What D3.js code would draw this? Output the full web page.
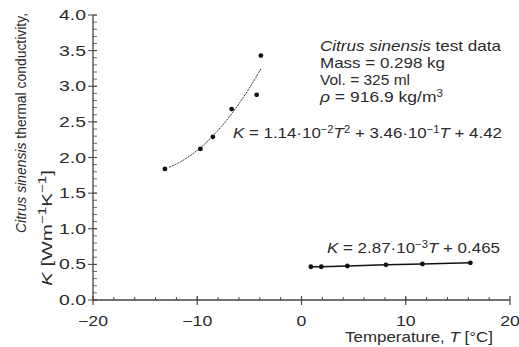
<!DOCTYPE html>
<html>
<head>
<meta charset="utf-8">
<script src="https://cdn.jsdelivr.net/npm/d3@7"></script>
<style>
  body { margin: 0; background: #fff; }
  text { font-family: "Liberation Sans", Arial, sans-serif; fill: #2b2b2b; }
</style>
</head>
<body>
<svg id="chart" width="519" height="347"></svg>
<script>
// frozen (below 0 C) measurements
var frozenT = [-13.1, -9.7, -8.5, -6.7, -4.3, -3.9];
var frozenK = [1.84, 2.12, 2.29, 2.68, 2.88, 3.43];
// thawed (above 0 C) measurements
var thawedT = [0.9, 1.9, 4.4, 8.1, 11.6, 16.2];
var thawedK = [0.467, 0.467, 0.477, 0.494, 0.505, 0.522];

// fit coefficients printed on the chart
var quadFit = [1.14e-2, 3.46e-1, 4.42];
var quadRange = [-12.7, -3.9];
var xTicks = [-20, -10, 0, 10, 20];
var yTicks = [0, 0.5, 1, 1.5, 2, 2.5, 3, 3.5, 4];

var svg = d3.select("#chart");
var axisColor = "#444";

var margins = { top: 15, bottom: 47, left: 93, right: 9 };
var width = 519, height = 347;

var x = d3.scaleLinear().domain([-20, 20]).range([margins.left, width - margins.right]);
var y = d3.scaleLinear().domain([0, 4]).range([height - margins.bottom, margins.top]);

// squeeze text to the widths seen in the picture
function fit(sel, len, how) {
  return sel.attr("textLength", len).attr("lengthAdjust", how || "spacingAndGlyphs");
}
function sup(sel, s, size) {
  sel.append("tspan").attr("baseline-shift", "super").style("font-size", (size || 10) + "px").text(s);
}

// y axis: minor ticks every 0.1 pointing in, major ticks crossing
var yAxisG = svg.append("g");
yAxisG.append("line")
  .attr("x1", x(-20)).attr("x2", x(-20))
  .attr("y1", y(0)).attr("y2", y(4))
  .attr("stroke", axisColor).attr("stroke-width", 1.3);
yAxisG.selectAll(".minor")
  .data(d3.range(0, 41).map(function(i) { return i / 10; }))
  .enter().append("line")
  .attr("x1", x(-20)).attr("x2", x(-20) + 4)
  .attr("y1", function(d) { return y(d); })
  .attr("y2", function(d) { return y(d); })
  .attr("stroke", axisColor).attr("stroke-width", 0.8);
yAxisG.selectAll(".major")
  .data(yTicks)
  .enter().append("line")
  .attr("x1", x(-20) - 5).attr("x2", x(-20) + 4)
  .attr("y1", function(d) { return y(d); })
  .attr("y2", function(d) { return y(d); })
  .attr("stroke", axisColor).attr("stroke-width", 1);
yAxisG.selectAll(".lab")
  .data(yTicks)
  .enter().append("text")
  .attr("x", x(-20) - 7)
  .attr("y", function(d) { return y(d) + 5; })
  .attr("text-anchor", "end")
  .attr("textLength", 27).attr("lengthAdjust", "spacingAndGlyphs")
  .style("font-size", "14.5px")
  .text(function(d) { return d.toFixed(1); });

// x axis: minor every 2 pointing up, majors crossing
var xAxisG = svg.append("g");
xAxisG.append("line")
  .attr("x1", x(-20)).attr("x2", x(20))
  .attr("y1", y(0)).attr("y2", y(0))
  .attr("stroke", axisColor).attr("stroke-width", 1.3);
xAxisG.selectAll(".minor")
  .data(d3.range(-18, 20, 2))
  .enter().append("line")
  .attr("x1", function(d) { return x(d); })
  .attr("x2", function(d) { return x(d); })
  .attr("y1", y(0)).attr("y2", y(0) - 3)
  .attr("stroke", axisColor).attr("stroke-width", 1);
xAxisG.selectAll(".major")
  .data(xTicks)
  .enter().append("line")
  .attr("x1", function(d) { return x(d); })
  .attr("x2", function(d) { return x(d); })
  .attr("y1", y(0) - 4).attr("y2", y(0) + 5)
  .attr("stroke", axisColor).attr("stroke-width", 1.2);
xAxisG.selectAll(".lab")
  .data(xTicks)
  .enter().append("text")
  .attr("transform", function(d) { return "translate(" + x(d) + "," + (y(0) + 26) + ") scale(1.22,1)"; })
  .attr("text-anchor", "middle")
  .style("font-size", "14.5px")
  .text(function(d) { return d < 0 ? "\u2212" + Math.abs(d) : d; });

// axis titles
var xt = svg.append("text").attr("x", 345).attr("y", 342).style("font-size", "15px");
xt.append("tspan").text("Temperature, ");
xt.append("tspan").style("font-style", "italic").text("T");
xt.append("tspan").text(" [\u00B0C]");
fit(xt, 148);

var yt1 = svg.append("text")
  .attr("transform", "translate(26,123) rotate(-90)")
  .attr("text-anchor", "middle")
  .style("font-size", "14.5px");
yt1.append("tspan").style("font-style", "italic").text("Citrus sinensis");
yt1.append("tspan").text(" thermal conductivity,");
fit(yt1, 220);

var yt2 = svg.append("text")
  .attr("transform", "translate(52,286) rotate(-90)")
  .style("font-size", "15px");
yt2.append("tspan").style("font-style", "italic").text("K");
yt2.append("tspan").text(" [Wm");
sup(yt2, "\u22121", 11);
yt2.append("tspan").text("K");
sup(yt2, "\u22121", 11);
yt2.append("tspan").text("]");
fit(yt2, 116);

// quadratic fit (dotted)
var curveT = d3.range(quadRange[0], quadRange[1] + 0.001, 0.1);
var fitLine = d3.line()
  .x(function(t) { return x(t); })
  .y(function(t) { return y(quadFit[0] * t * t + quadFit[1] * t + quadFit[2]); })
  .curve(d3.curveMonotoneX);
svg.append("path")
  .datum(curveT)
  .attr("d", fitLine)
  .attr("fill", "none")
  .attr("stroke", "#222")
  .attr("stroke-width", 1)
  .attr("stroke-dasharray", "2,1");

// thawed line (solid, through points)
var thawed = thawedT.map(function(t, i) { return [t, thawedK[i]]; });
svg.append("path")
  .datum(thawed)
  .attr("d", d3.line().x(function(d) { return x(d[0]); }).y(function(d) { return y(d[1]); }))
  .attr("fill", "none").attr("stroke", "#111").attr("stroke-width", 1.6);

var frozen = frozenT.map(function(t, i) { return [t, frozenK[i]]; });
svg.selectAll(".dots")
  .data(frozen.concat(thawed))
  .enter().append("circle")
  .attr("class", "dots")
  .attr("cx", function(d) { return x(d[0]); })
  .attr("cy", function(d) { return y(d[1]); })
  .attr("r", 2.4)
  .attr("fill", "#111");

// annotation block
var info = svg.append("g").style("font-size", "15px");
var l1 = info.append("text").attr("x", 320).attr("y", 51);
l1.append("tspan").style("font-style", "italic").text("Citrus sinensis");
l1.append("tspan").text(" test data");
fit(l1, 181);
fit(info.append("text").attr("x", 320).attr("y", 68).text("Mass = 0.298 kg"), 125);
fit(info.append("text").attr("x", 320).attr("y", 85).text("Vol. = 325 ml"), 90);
var l4 = info.append("text").attr("x", 320).attr("y", 102);
l4.append("tspan").style("font-style", "italic").text("\u03C1");
l4.append("tspan").text(" = 916.9 kg/m");
sup(l4, "3");
fit(l4, 123);

var e1 = svg.append("text").attr("x", 233).attr("y", 138).style("font-size", "15px");
e1.append("tspan").style("font-style", "italic").text("K");
e1.append("tspan").text(" = 1.14\u00B710");
sup(e1, "\u22122");
e1.append("tspan").style("font-style", "italic").text("T");
sup(e1, "2");
e1.append("tspan").text(" + 3.46\u00B710");
sup(e1, "\u22121");
e1.append("tspan").style("font-style", "italic").text("T");
e1.append("tspan").text(" + 4.42");
fit(e1, 269);

var e2 = svg.append("text").attr("x", 327).attr("y", 253).style("font-size", "15px");
e2.append("tspan").style("font-style", "italic").text("K");
e2.append("tspan").text(" = 2.87\u00B710");
sup(e2, "\u22123");
e2.append("tspan").style("font-style", "italic").text("T");
e2.append("tspan").text(" + 0.465");
fit(e2, 173);
</script>
</body>
</html>
